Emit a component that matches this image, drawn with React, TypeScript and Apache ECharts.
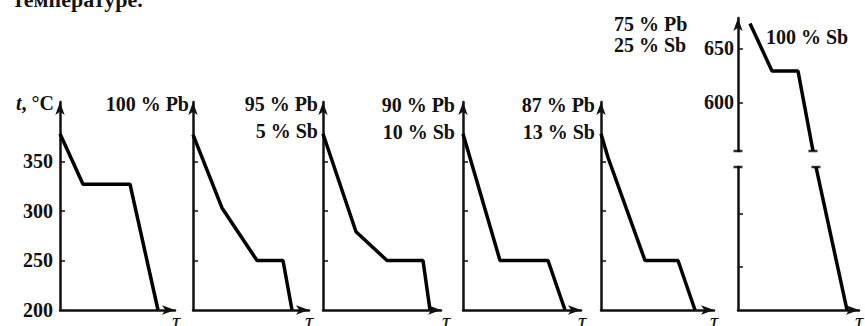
import React, { useEffect, useRef } from "react";
import * as echarts from "echarts";

// ---------- data ----------
const titleText = "температуре.";
const tempUnit = "{i|t}, °C";
const timeSymbol = "τ";

const compositions: string[][] = [
  ["100 % Pb"],
  ["95 % Pb", "5 % Sb"],
  ["90 % Pb", "10 % Sb"],
  ["87 % Pb", "13 % Sb"],
  ["75 % Pb", "25 % Sb"],
  ["100 % Sb"],
];

// cooling curves: [time (arb.), temperature °C]
const curvePb100 = [[0, 378], [23, 327], [70, 327], [98, 200]];
const curveSb5 = [[0, 377], [29, 303], [64, 250], [90, 250], [99, 200]];
const curveSb10 = [[0, 378], [33, 279], [64, 250], [100, 250], [107, 200]];
const curveSb13 = [[0, 378], [37, 250], [85, 250], [102, 200]];
const curveSb25 = [[0, 378], [7, 354], [44, 250], [77, 250], [94, 200]];
const curveSb100Upper = [[12, 673], [34, 629], [60, 629], [75, 555]];
const curveSb100Lower = [[78, 344], [109, 209]];

const lowTicks = [250, 300, 350];
const lowLabels = [200, 250, 300, 350];
const sbUpperTicks = [600, 650];
const sbLowerTicks = [250, 300];

const lowRange = [200, 410];
const sbUpperRange = [555, 678];
const sbLowerRange = [209, 344];

// break caps (axis and curve) for the 100 % Sb panel
const sbUpperCaps = [[0, 555], [75, 555]];
const sbLowerCaps = [[0, 344], [78, 344]];

// ---------- layout / style ----------
const W = 865;
const H = 326;
const panelLeft = [60, 193, 323, 463, 601, 738];
const panelWidth = [115, 116, 118, 118, 113, 121];
const lowTop = 102;
const lowHeight = 208;
const sbUpTop = 18;
const sbUpHeight = 133;
const sbLowTop = 167;
const sbLowHeight = 143;

const FONT = "'Liberation Serif', 'Times New Roman', serif";
const INK = "#111";
const FS = 20;
const FW = "bold";

export default function App() {
  const ref = useRef<HTMLDivElement>(null);

  useEffect(() => {
    if (!ref.current) return;
    const chart = echarts.init(ref.current, null, { renderer: "svg", width: W, height: H });

    const curves = [curvePb100, curveSb5, curveSb10, curveSb13, curveSb25];

    const grids: any[] = [];
    const xAxes: any[] = [];
    const yAxes: any[] = [];
    const series: any[] = [];

    const arrowLine = {
      show: true,
      symbol: ["none", "arrow"],
      symbolSize: [7, 13],
      onZero: false,
      lineStyle: { color: INK, width: 2.5 },
    };

    const makeX = (i: number, gridIndex: number, show: boolean) => ({
      type: "value",
      gridIndex,
      min: 0,
      max: panelWidth[i],
      show,
      axisLine: arrowLine,
      axisTick: { show: false },
      axisLabel: { show: false },
      splitLine: { show: false },
    });

    const labelStyle = {
      color: INK,
      fontFamily: FONT,
      fontSize: FS,
      fontWeight: FW,
    };

    // five Pb-rich panels
    for (let i = 0; i < 5; i++) {
      grids.push({ left: panelLeft[i], top: lowTop, width: panelWidth[i], height: lowHeight });
      xAxes.push(makeX(i, i, true));
      yAxes.push({
        type: "value",
        gridIndex: i,
        min: lowRange[0],
        max: lowRange[1],
        axisLine: arrowLine,
        axisTick: {
          show: true,
          inside: true,
          length: 5,
          customValues: lowTicks,
          lineStyle: { color: INK, width: 1.5 },
        },
        axisLabel: {
          show: i === 0,
          customValues: lowLabels,
          margin: 7,
          ...labelStyle,
        },
        splitLine: { show: false },
      });
      series.push({
        type: "line",
        xAxisIndex: i,
        yAxisIndex: i,
        data: curves[i],
        symbol: "none",
        clip: false,
        lineStyle: { color: "#000", width: 3.5 },
      });
    }

    // 100 % Sb panel: upper part (grid 5)
    grids.push({ left: panelLeft[5], top: sbUpTop, width: panelWidth[5], height: sbUpHeight });
    xAxes.push(makeX(5, 5, false));
    yAxes.push({
      type: "value",
      gridIndex: 5,
      min: sbUpperRange[0],
      max: sbUpperRange[1],
      axisLine: arrowLine,
      axisTick: {
        show: true,
        inside: true,
        length: 5,
        customValues: sbUpperTicks,
        lineStyle: { color: INK, width: 1.5 },
      },
      axisLabel: {
        show: true,
        customValues: sbUpperTicks,
        margin: 4,
        ...labelStyle,
      },
      splitLine: { show: false },
    });
    // lower part (grid 6)
    grids.push({ left: panelLeft[5], top: sbLowTop, width: panelWidth[5], height: sbLowHeight });
    xAxes.push(makeX(5, 6, true));
    yAxes.push({
      type: "value",
      gridIndex: 6,
      min: sbLowerRange[0],
      max: sbLowerRange[1],
      axisLine: { show: true, onZero: false, lineStyle: { color: INK, width: 2.5 } },
      axisTick: {
        show: true,
        inside: true,
        length: 5,
        customValues: sbLowerTicks,
        lineStyle: { color: INK, width: 1.5 },
      },
      axisLabel: { show: false },
      splitLine: { show: false },
    });
    series.push({
      type: "line",
      xAxisIndex: 5,
      yAxisIndex: 5,
      data: curveSb100Upper,
      symbol: "none",
      clip: false,
      lineStyle: { color: "#000", width: 3.5 },
    });
    series.push({
      type: "line",
      xAxisIndex: 6,
      yAxisIndex: 6,
      data: curveSb100Lower,
      symbol: "none",
      clip: false,
      lineStyle: { color: "#000", width: 3.5 },
    });
    series.push({
      type: "scatter",
      xAxisIndex: 5,
      yAxisIndex: 5,
      data: sbUpperCaps,
      symbol: "rect",
      symbolSize: [9, 2.5],
      clip: false,
      itemStyle: { color: "#000" },
    });
    series.push({
      type: "scatter",
      xAxisIndex: 6,
      yAxisIndex: 6,
      data: sbLowerCaps,
      symbol: "rect",
      symbolSize: [9, 2.5],
      clip: false,
      itemStyle: { color: "#000" },
    });

    // texts
    const txt = (text: string, x: number, y: number, align: string, extra: any = {}) => ({
      type: "text",
      x,
      y,
      silent: true,
      style: {
        text,
        align,
        verticalAlign: "middle",
        fontFamily: FONT,
        fontSize: FS,
        fontWeight: FW,
        fill: INK,
        ...extra,
      },
    });

    const compPos: { x: number; y: number[]; align: string }[] = [
      { x: 189, y: [104], align: "right" },
      { x: 318, y: [104, 131], align: "right" },
      { x: 455, y: [105, 132], align: "right" },
      { x: 595, y: [105, 132], align: "right" },
      { x: 614, y: [24, 45], align: "left" },
      { x: 766, y: [37], align: "left" },
    ];
    const tauX = [176, 309, 446, 582, 714, 859];

    const graphics: any[] = [];
    graphics.push(
      txt(titleText, 13, 10, "left", { fontSize: 22, verticalAlign: "bottom" })
    );
    graphics.push(
      txt(tempUnit, 54, 103, "right", {
        rich: { i: { fontStyle: "italic", fontFamily: FONT, fontSize: FS, fontWeight: FW, fill: INK } },
      })
    );
    compositions.forEach((lines, i) => {
      lines.forEach((line, j) => {
        graphics.push(txt(line, compPos[i].x, compPos[i].y[j], compPos[i].align));
      });
    });
    tauX.forEach((x) => {
      graphics.push(txt(timeSymbol, x, 321, "center", { fontStyle: "italic", fontSize: 23, fontWeight: "normal" }));
    });

    chart.setOption({
      animation: false,
      backgroundColor: "#fff",
      grid: grids,
      xAxis: xAxes,
      yAxis: yAxes,
      series,
      graphic: graphics,
    });

    return () => chart.dispose();
  }, []);

  return (
    <div
      ref={ref}
      style={{ position: "fixed", left: 0, top: 0, width: W, height: H, background: "#fff" }}
    />
  );
}
